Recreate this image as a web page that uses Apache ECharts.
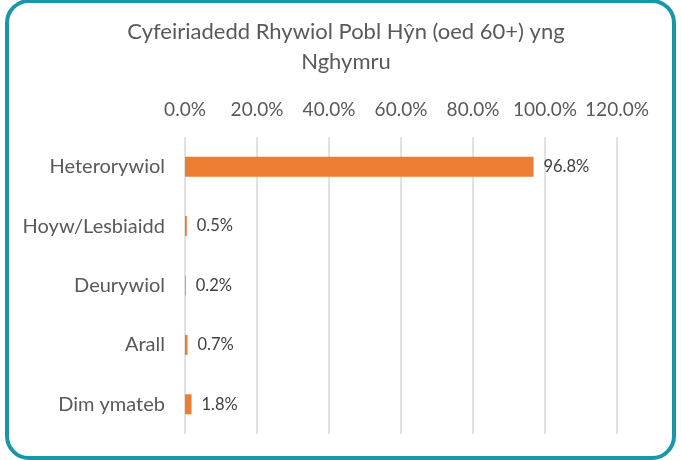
<!DOCTYPE html>
<html lang="cy">
<head>
    <meta charset="UTF-8">
    <title>Cyfeiriadedd Rhywiol Pobl Hŷn</title>
    <script src="https://cdn.jsdelivr.net/npm/echarts@6/dist/echarts.min.js"></script>
    <style>
        html, body { margin: 0; padding: 0; background: #fff; overflow: hidden; }
        #frame {
            position: absolute; left: 5px; top: -1px;
            width: 663px; height: 453px;
            border: 4px solid #1797a9; border-radius: 24px;
        }
        #main { position: absolute; left: 0; top: 0; width: 681px; height: 460px; }
    </style>
</head>
<body>
    <div id="frame"></div>
    <div id="main"></div>
    <script type="text/javascript">
        // categories top to bottom
        var categories = ['Heterorywiol', 'Hoyw/Lesbiaidd', 'Deurywiol', 'Arall', 'Dim ymateb'];
        // percentages
        var values = [96.8, 0.5, 0.2, 0.7, 1.8];
        var axisTicks = [0, 20, 40, 60, 80, 100, 120];

        var font = 'Lato, "Open Sans", sans-serif';
        var myChart = echarts.init(document.getElementById('main'));

        var option = {
            animation: false,
            textStyle: { fontFamily: font },
            title: {
                text: 'Cyfeiriadedd Rhywiol Pobl Hŷn (oed 60+) yng\nNghymru',
                left: 341,
                top: 12,
                textAlign: 'center',
                textStyle: {
                    fontFamily: font,
                    fontSize: 22,
                    fontWeight: 'normal',
                    color: '#595959',
                    lineHeight: 30
                }
            },
            grid: {
                left: 185,
                right: 64,
                top: 137,
                bottom: 26
            },
            xAxis: {
                type: 'value',
                position: 'top',
                min: axisTicks[0],
                max: axisTicks[axisTicks.length - 1],
                interval: 20,
                axisLine: { show: false },
                axisTick: { show: false },
                splitLine: { lineStyle: { color: '#d9d9d9', width: 1.5 } },
                axisLabel: {
                    margin: 18,
                    fontSize: 19,
                    color: '#595959',
                    formatter: function (v) { return v.toFixed(1) + '%'; }
                }
            },
            yAxis: {
                type: 'category',
                inverse: true,
                data: categories,
                axisLine: { show: false },
                axisTick: { show: false },
                axisLabel: {
                    margin: 20,
                    fontSize: 20,
                    color: '#595959'
                }
            },
            series: [
                {
                    type: 'bar',
                    data: values,
                    barWidth: 20,
                    itemStyle: { color: '#ed7d31' },
                    label: {
                        show: true,
                        position: 'right',
                        distance: 10,
                        fontSize: 16.5,
                        color: '#404040',
                        formatter: function (p) { return p.value.toFixed(1) + '%'; }
                    }
                }
            ]
        };
        myChart.setOption(option);
    </script>
</body>
</html>
